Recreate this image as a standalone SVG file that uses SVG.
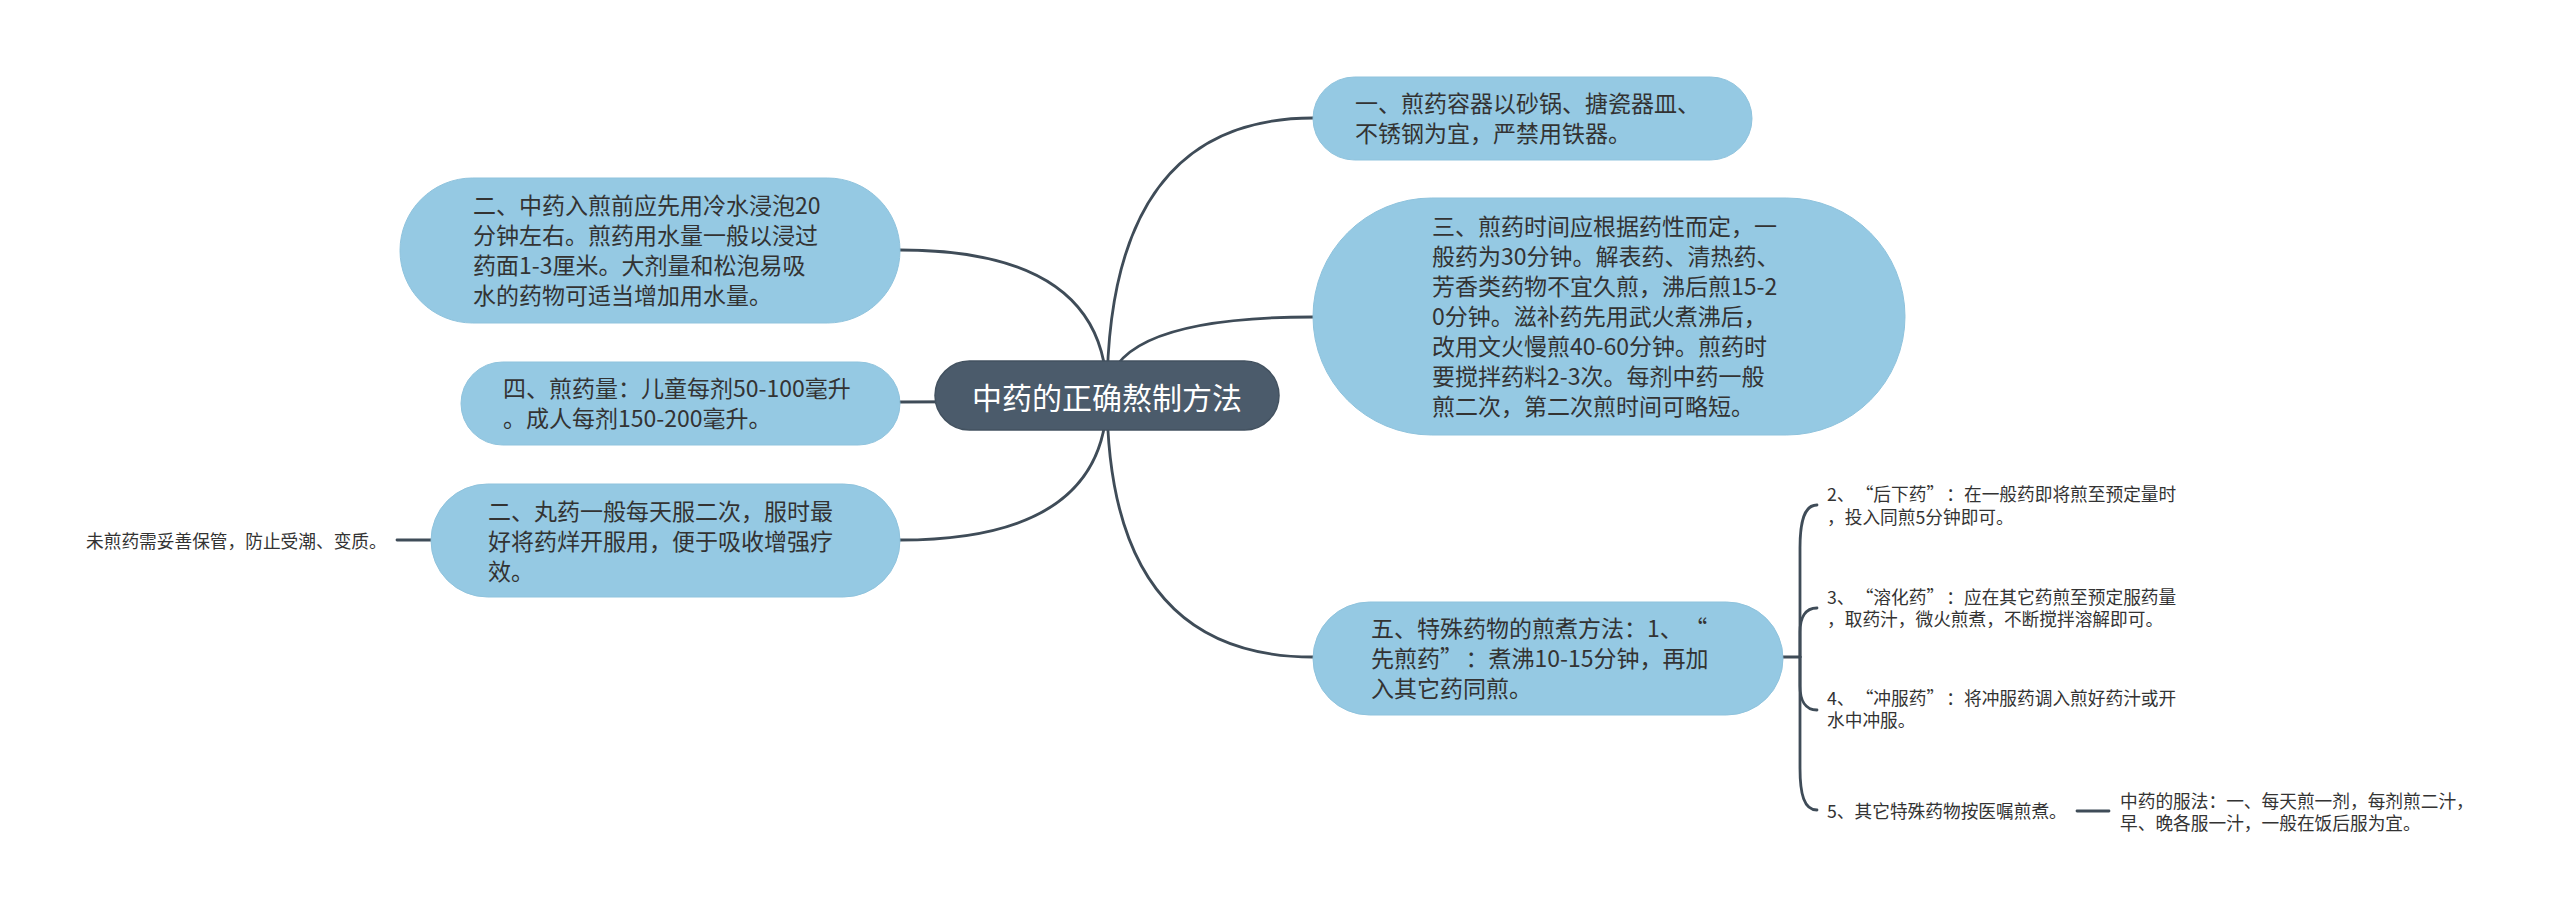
<svg xmlns="http://www.w3.org/2000/svg" width="2560" height="919" viewBox="0 0 2560 919">
<style>
.bg{fill:#ffffff}
.node{fill:#95c9e3;stroke:#8fc3dd;stroke-width:1}
.root{fill:#4b5b6b;stroke:#435260;stroke-width:1.5}
.t{font-family:"Noto Sans CJK SC","Noto Sans",sans-serif;font-size:23px;fill:#333333}
.rt{font-family:"Noto Sans CJK SC","Noto Sans",sans-serif;font-size:30px;fill:#ffffff;text-anchor:middle}
.s{font-family:"Noto Sans CJK SC","Noto Sans",sans-serif;font-size:17.7px;fill:#333333}
.c{fill:none;stroke:#3f4c58;stroke-width:2.8;stroke-linecap:round}
</style>
<rect class="bg" x="0" y="0" width="2560" height="919"/>
<g id="connectors">
<path class="c" d="M1107,396 Q1107,250 900,250"/>
<path class="c" d="M1107,399 Q1000,402 900,402"/>
<path class="c" d="M1107,396 Q1107,540 900,540"/>
<path class="c" d="M1107,396 Q1107,118 1313,118"/>
<path class="c" d="M1107,396 Q1107,317 1313,317"/>
<path class="c" d="M1107,396 Q1107,657 1313,657"/>
<path class="c" d="M431,540 L397,540"/>
<path class="c" d="M1783,657 L1800,657"/>
<path class="c" d="M1800,657 L1800,548 C1800,522 1804,505 1817,505"/>
<path class="c" d="M1800,657 L1800,632 C1800,618 1805,608 1817,608"/>
<path class="c" d="M1800,657 L1800,686 C1800,700 1805,710 1817,710"/>
<path class="c" d="M1800,657 L1800,768 C1800,794 1804,810 1817,810"/>
<path class="c" d="M2077,811 L2109,811"/>
</g>
<g id="root">
<rect class="root" x="935" y="361" width="344" height="69" rx="34.5"/>
<text class="rt" x="1107" y="408.5">中药的正确熬制方法</text>
</g>
<g id="n-soak">
<rect class="node" x="400" y="178" width="500" height="145" rx="72.5"/>
<text class="t" x="473"><tspan x="473" y="214">二、中药入煎前应先用冷水浸泡20</tspan><tspan x="473" y="244">分钟左右。煎药用水量一般以浸过</tspan><tspan x="473" y="274">药面1-3厘米。大剂量和松泡易吸</tspan><tspan x="473" y="304">水的药物可适当增加用水量。</tspan></text>
</g>
<g id="n-amount">
<rect class="node" x="461" y="362" width="439" height="83" rx="41.5"/>
<text class="t"><tspan x="503" y="396.5">四、煎药量：儿童每剂50-100毫升</tspan><tspan x="503" y="427">。成人每剂150-200毫升。</tspan></text>
</g>
<g id="n-pill">
<rect class="node" x="431" y="484" width="469" height="113" rx="56.5"/>
<text class="t"><tspan x="488" y="519.5">二、丸药一般每天服二次，服时最</tspan><tspan x="488" y="549.5">好将药烊开服用，便于吸收增强疗</tspan><tspan x="488" y="579.5">效。</tspan></text>
</g>
<g id="n-storage">
<text class="s" x="86" y="548">未煎药需妥善保管，防止受潮、变质。</text>
</g>
<g id="n-vessel">
<rect class="node" x="1313" y="77" width="439" height="83" rx="41.5"/>
<text class="t"><tspan x="1355" y="112">一、煎药容器以砂锅、搪瓷器皿、</tspan><tspan x="1355" y="142">不锈钢为宜，严禁用铁器。</tspan></text>
</g>
<g id="n-time">
<rect class="node" x="1313" y="198" width="592" height="237" rx="118.5"/>
<text class="t"><tspan x="1432" y="234.5">三、煎药时间应根据药性而定，一</tspan><tspan x="1432" y="264.5">般药为30分钟。解表药、清热药、</tspan><tspan x="1432" y="294.5">芳香类药物不宜久煎，沸后煎15-2</tspan><tspan x="1432" y="324.5">0分钟。滋补药先用武火煮沸后，</tspan><tspan x="1432" y="354.5">改用文火慢煎40-60分钟。煎药时</tspan><tspan x="1432" y="384.5">要搅拌药料2-3次。每剂中药一般</tspan><tspan x="1432" y="414.5">煎二次，第二次煎时间可略短。</tspan></text>
</g>
<g id="n-special">
<rect class="node" x="1313" y="602" width="470" height="113" rx="56.5"/>
<text class="t"><tspan x="1371" y="636.5">五、特殊药物的煎煮方法：1、<tspan dx="13">“</tspan></tspan><tspan x="1371" y="666.5">先煎药”<tspan dx="14">：</tspan>煮沸10-15分钟，再加</tspan><tspan x="1371" y="696.5">入其它药同煎。</tspan></text>
</g>
<g id="n-later">
<text class="s"><tspan x="1827" y="501">2、<tspan dx="10">“</tspan>后下药”<tspan dx="11">：</tspan>在一般药即将煎至预定量时</tspan><tspan x="1827" y="523.5">，投入同煎5分钟即可。</tspan></text>
</g>
<g id="n-dissolve">
<text class="s"><tspan x="1827" y="603.5">3、<tspan dx="10">“</tspan>溶化药”<tspan dx="11">：</tspan>应在其它药煎至预定服药量</tspan><tspan x="1827" y="626">，取药汁，微火煎煮，不断搅拌溶解即可。</tspan></text>
</g>
<g id="n-infuse">
<text class="s"><tspan x="1827" y="704.5">4、<tspan dx="10">“</tspan>冲服药”<tspan dx="11">：</tspan>将冲服药调入煎好药汁或开</tspan><tspan x="1827" y="727">水中冲服。</tspan></text>
</g>
<g id="n-other">
<text class="s" x="1827" y="818">5、其它特殊药物按医嘱煎煮。</text>
</g>
<g id="n-dosage">
<text class="s"><tspan x="2120" y="808">中药的服法：一、每天煎一剂，每剂煎二汁，</tspan><tspan x="2120" y="830">早、晚各服一汁，一般在饭后服为宜。</tspan></text>
</g>
</svg>
